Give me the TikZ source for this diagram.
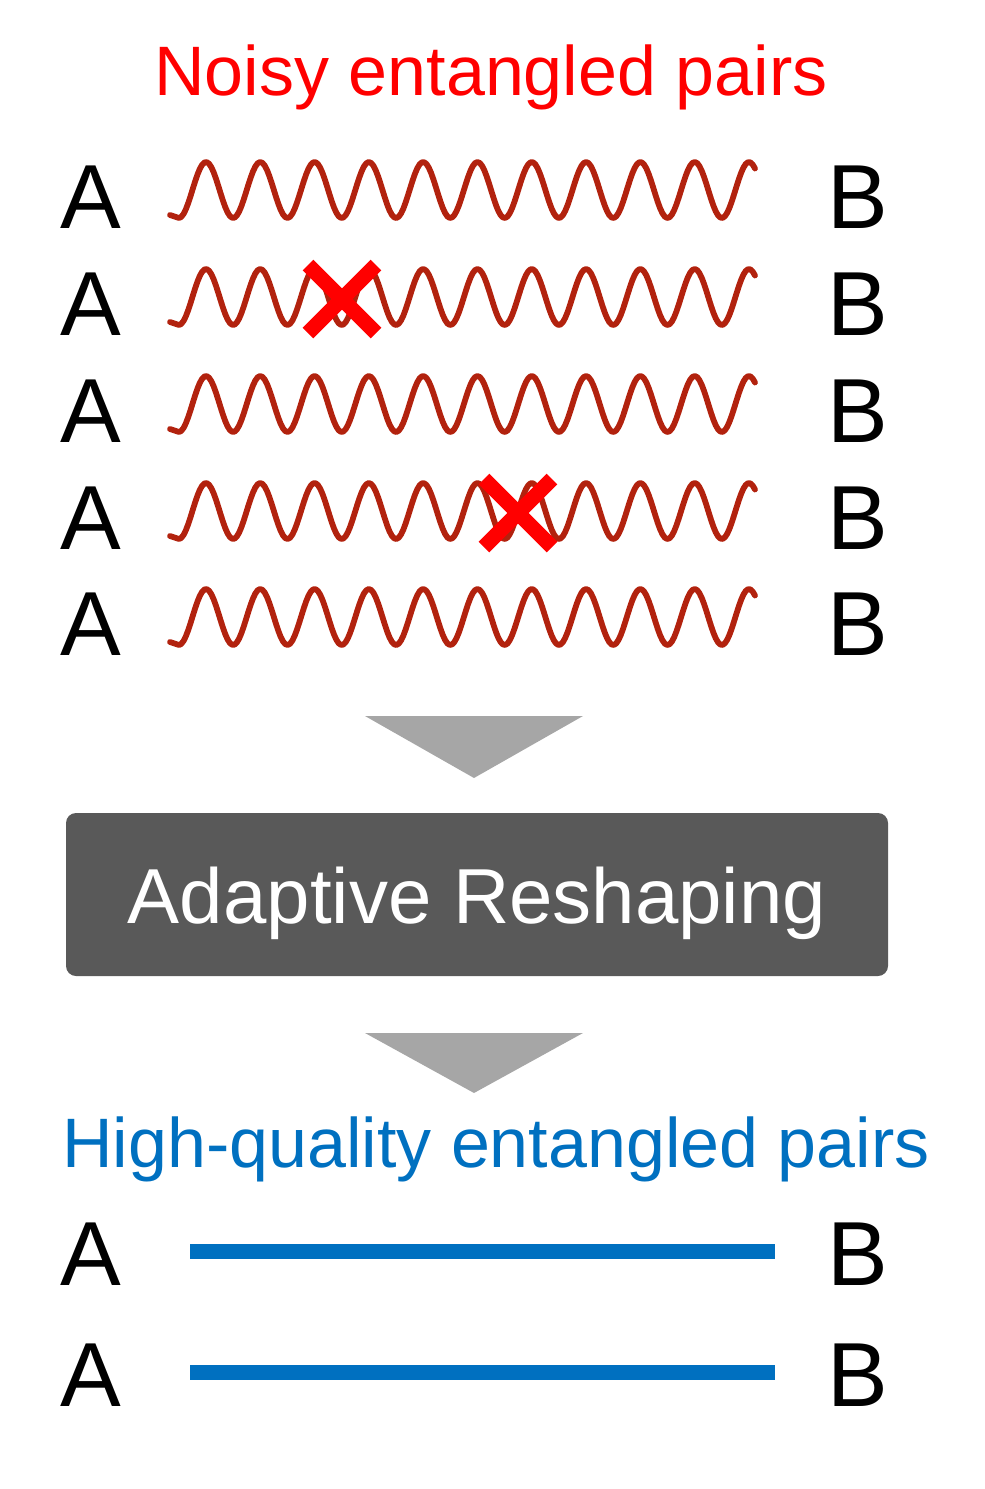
\documentclass[tikz,border=0pt]{standalone}
\usepackage{fontspec}
\setmainfont{Liberation Sans}
\definecolor{wavered}{RGB}{178,34,14}
\definecolor{noisyred}{RGB}{255,0,0}
\definecolor{goodblue}{RGB}{0,112,192}
\definecolor{boxgray}{RGB}{89,89,89}
\definecolor{arrowgray}{RGB}{166,166,166}
\tikzset{
  party/.style={inner sep=0pt,anchor=base,font=\fontsize{45.5}{50}\selectfont},
  heading/.style={inner sep=0pt,anchor=base,font=\fontsize{35}{40}\selectfont},
  wave/.style={wavered,line width=2.9pt,line join=round,line cap=round},
  cross/.style={noisyred,line width=7.5pt},
  link/.style={goodblue,line width=7.5pt},
  funnel/.style={fill=arrowgray},
  process/.style={fill=boxgray,rounded corners=5pt,text=white,anchor=base,inner xsep=0pt,inner ysep=0pt,
    minimum width=411pt,text height=55pt,text depth=26.5pt,font=\fontsize{39}{44}\selectfont},
}
\begin{document}
\begin{tikzpicture}[x=0.5pt,y=-0.5pt]
\useasboundingbox (0,0) rectangle (985,1489);
\node[heading,text=noisyred] (noisy) at (491,95) {Noisy entangled pairs};
\foreach \i/\yc in {1/190,2/297,3/404,4/511,5/617}{
  \node[party] (a\i) at (91,\yc+38) {A};
  \node[party] (b\i) at (858,\yc+38) {B};
  \draw[wave] (170,\yc+25) -- plot[domain=179:755,samples=250] (\x,{\yc-28*cos(6.63*(\x-206))});
}
\foreach \cx/\cy in {342/299,518/513}
  \draw[cross] (\cx-34,\cy-34) -- (\cx+34,\cy+34) (\cx-34,\cy+34) -- (\cx+34,\cy-34);
\fill[funnel] (365,716) -- (583,716) -- (474,778) -- cycle;
\node[process] (reshape) at (477,923) {Adaptive Reshaping};
\fill[funnel] (365,1033) -- (583,1033) -- (474,1093) -- cycle;
\node[heading,text=goodblue] (quality) at (496,1167) {High-quality entangled pairs};
\foreach \i/\yc in {1/1251,2/1372}{
  \node[party] (ga\i) at (91,\yc+34) {A};
  \node[party] (gb\i) at (858,\yc+34) {B};
  \coordinate (gl\i) at (190,\yc);
  \coordinate (gr\i) at (775,\yc);
  \draw[link] (gl\i) -- (gr\i);
}
\end{tikzpicture}
\end{document}
